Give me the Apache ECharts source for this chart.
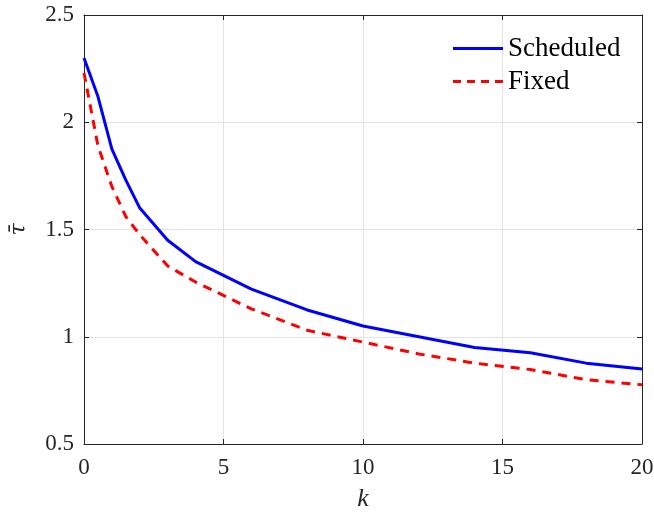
<!DOCTYPE html>
<html>
<head>
<meta charset="utf-8">
<script src="https://cdn.jsdelivr.net/npm/echarts@6/dist/echarts.min.js"></script>
<style>
  html, body { margin: 0; padding: 0; background: #fff; }
  #chart { width: 654px; height: 512px; }
</style>
</head>
<body>
<div id="chart"></div>
<script>
// Mean delay versus k for the two schedules
const kValues = [0, 0.5, 1, 1.5, 2, 3, 4, 6, 8, 10, 12, 14, 16, 18, 20];
const scheduled = [2.30, 2.12, 1.875, 1.73, 1.60, 1.45, 1.35, 1.222, 1.125, 1.05, 1.00, 0.95, 0.925, 0.877, 0.85];
const fixed = [2.23, 1.89, 1.70, 1.56, 1.475, 1.33, 1.255, 1.13, 1.03, 0.975, 0.92, 0.877, 0.847, 0.80, 0.776];
const xTicks = [0, 5, 10, 15, 20];
const yTicks = [0.5, 1, 1.5, 2, 2.5];

const FONT = '"Liberation Serif", "DejaVu Serif", serif';
const INK = '#262626';
const GRIDC = '#e3e3e3';

// legend glyphs: a solid bar and a dashed bar
const SOLID_ICON = 'path://M0,0h50v3h-50z';
const DASH_ICON = 'path://M0,0h8v3h-8zM14,0h8v3h-8zM28,0h8v3h-8zM42,0h8v3h-8z';

const pairs = (xs, ys) => xs.map((x, i) => [x, ys[i]]);

const chart = echarts.init(document.getElementById('chart'), null, { renderer: 'canvas' });

const baseX = {
  type: 'value',
  min: xTicks[0],
  max: xTicks[xTicks.length - 1],
  interval: 5,
  axisLine: { show: true, onZero: false, lineStyle: { color: INK, width: 1 } },
  axisTick: { show: true, inside: true, length: 5, lineStyle: { color: INK } },
  splitLine: { show: false },
  axisLabel: { show: false }
};
const baseY = {
  type: 'value',
  min: yTicks[0],
  max: yTicks[yTicks.length - 1],
  interval: 0.5,
  axisLine: { show: true, onZero: false, lineStyle: { color: INK, width: 1 } },
  axisTick: { show: true, inside: true, length: 5, lineStyle: { color: INK } },
  splitLine: { show: false },
  axisLabel: { show: false }
};

chart.setOption({
  animation: false,
  backgroundColor: '#fff',
  grid: { left: 84, right: 12, top: 15, bottom: 68, containLabel: false, outerBoundsMode: 'none' },
  legend: {
    orient: 'vertical',
    left: 453,
    top: 35,
    padding: 0,
    itemWidth: 50,
    itemHeight: 20,
    itemGap: 6,
    textStyle: { fontFamily: FONT, fontSize: 27, lineHeight: 27, color: '#000' },
    data: [
      { name: 'Scheduled', icon: SOLID_ICON },
      { name: 'Fixed', icon: DASH_ICON }
    ]
  },
  xAxis: [
    Object.assign({}, baseX, {
      position: 'bottom',
      splitLine: { show: true, lineStyle: { color: GRIDC, width: 1 } },
      axisLabel: { show: true, fontFamily: FONT, fontSize: 23, color: INK, margin: 12,
        formatter: v => String(v) },
      name: 'k',
      nameLocation: 'middle',
      nameGap: 42,
      nameTextStyle: { fontFamily: FONT, fontSize: 26, fontStyle: 'italic', color: INK }
    }),
    Object.assign({}, baseX, { position: 'top' })
  ],
  yAxis: [
    Object.assign({}, baseY, {
      position: 'left',
      splitLine: { show: true, lineStyle: { color: GRIDC, width: 1 } },
      axisLabel: { show: true, fontFamily: FONT, fontSize: 23, color: INK, margin: 10,
        formatter: v => String(v) },
      name: '\u03C4\u0304',
      nameLocation: 'middle',
      nameGap: 54,
      nameTextStyle: { fontFamily: '"DejaVu Serif", serif', fontSize: 22, fontStyle: 'italic', color: INK }
    }),
    Object.assign({}, baseY, { position: 'right' })
  ],
  series: [
    {
      name: 'Scheduled',
      type: 'line',
      xAxisIndex: 0,
      yAxisIndex: 0,
      data: pairs(kValues, scheduled),
      symbol: 'none',
      lineStyle: { color: '#0000ff', width: 3, type: 'solid' },
      itemStyle: { color: '#0000ff' }
    },
    {
      name: 'Fixed',
      type: 'line',
      xAxisIndex: 0,
      yAxisIndex: 0,
      data: pairs(kValues, fixed),
      symbol: 'none',
      lineStyle: { color: '#ff0000', width: 3, type: [9, 7] },
      itemStyle: { color: '#ff0000' }
    }
  ]
});
</script>
</body>
</html>
